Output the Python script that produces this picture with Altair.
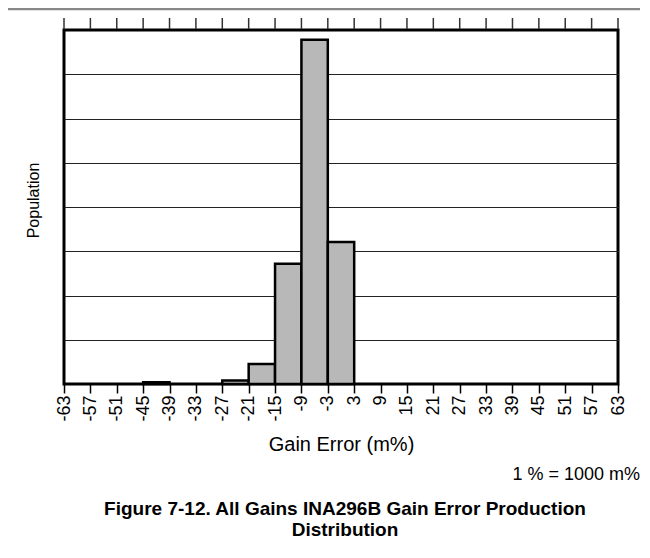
import altair as alt
import pandas as pd

# ---- data ----
bin_start = [-45, -27, -21, -15, -9, -3]
bin_end = [-39, -21, -15, -9, -3, 3]
population = [0.04, 0.08, 0.45, 2.72, 7.78, 3.21]
tick_values = list(range(-63, 64, 6))
grid_values = [1, 2, 3, 4, 5, 6, 7]

x_title = "Gain Error (m%)"
y_title = "Population"
note_text = "1 % = 1000 m%"
caption_lines = ["Figure 7-12. All Gains INA296B Gain Error Production", "Distribution"]

FONT = "Liberation Sans"

bars_df = pd.DataFrame({"start": bin_start, "end": bin_end, "pop": population})
ticks_df = pd.DataFrame({"t": tick_values})
one = pd.DataFrame({"a": [0]})

x_scale = alt.Scale(domain=[-63, 63], nice=False, zero=False)
y_scale = alt.Scale(domain=[0, 8], nice=False)

x_axis = alt.Axis(
    values=tick_values, title=x_title, labelAngle=-90, labelFontSize=18,
    labelExpr="'' + datum.value",
    labelColor="black", labelFont=FONT, tickSize=9, tickColor="black",
    tickWidth=1.5, domain=False, grid=False, labelPadding=2,
    labelFlush=False, labelOverlap=False,
    titleFont=FONT, titleFontSize=20, titleFontWeight="normal",
    titleColor="black", titleX=277, titleY=66,
    titleBaseline="alphabetic", titleAlign="center")

y_axis = alt.Axis(
    values=grid_values, grid=True, gridColor="#222", gridWidth=1,
    labels=False, ticks=False, domain=False, title=y_title,
    titleFont=FONT, titleFontSize=16, titleFontWeight="normal",
    titleColor="black", titleAngle=270, titleX=-26, titleY=170,
    titleBaseline="alphabetic", titleAlign="center")

bars = alt.Chart(bars_df).mark_bar(
    fill="#b8b8b8", stroke="black", strokeWidth=2.5
).encode(
    x=alt.X("start:Q", scale=x_scale, axis=x_axis),
    x2="end:Q",
    y=alt.Y("pop:Q", scale=y_scale, axis=y_axis),
    y2=alt.datum(0),
)

top_ticks = alt.Chart(ticks_df).mark_rule(color="#333", strokeWidth=1.5).encode(
    x=alt.X("t:Q", scale=x_scale, axis=x_axis),
    y=alt.value(-12),
    y2=alt.value(-1),
)

top_line = alt.Chart(one).mark_rule(color="#888", strokeWidth=2.5).encode(
    x=alt.value(-60), x2=alt.value(580), y=alt.value(-21)
)

note = alt.Chart(one).mark_text(
    font=FONT, fontSize=18, align="right", baseline="alphabetic", color="black"
).encode(x=alt.value(576), y=alt.value(450), text=alt.value(note_text))

caption = alt.Chart(one).mark_text(
    font=FONT, fontSize=19, fontWeight="bold", align="center",
    baseline="alphabetic", color="black", lineHeight=21
).encode(x=alt.value(281), y=alt.value(485), text=alt.value(caption_lines))

chart = alt.layer(bars, top_ticks, top_line, note, caption).properties(
    width=554, height=354,
    background="white",
    autosize=alt.AutoSizeParams(type="none"),
    padding={"left": 56, "top": 22, "right": 22, "bottom": 164},
).configure_view(stroke="black", strokeWidth=3)

chart.save("out.html", embed_options={"renderer": "svg", "actions": False})
